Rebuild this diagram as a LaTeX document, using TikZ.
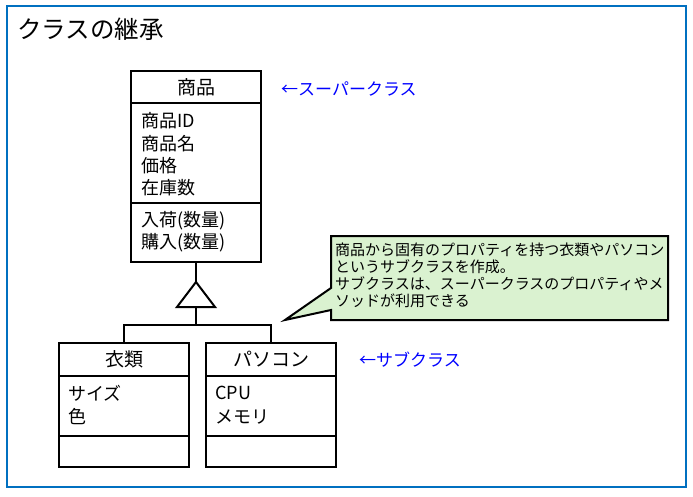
\documentclass[tikz,border=0pt]{standalone}
\usepackage{fontspec}
\setmainfont{Noto Sans CJK JP}
\definecolor{framblue}{RGB}{0,112,192}
\definecolor{callgreen}{RGB}{218,242,208}
\definecolor{notblue}{RGB}{0,0,255}
\begin{document}
\begin{tikzpicture}[x=1pt,y=-1pt,
  box/.style={draw, line width=2pt, minimum width=130pt, anchor=north west, inner sep=0pt, outer sep=0pt},
  hdr/.style={font=\fontsize{19}{21}\selectfont},
  txt/.style={anchor=west, inner sep=0pt, font=\fontsize{18}{20}\selectfont},
  ctxt/.style={anchor=west, inner sep=0pt, font=\fontsize{15}{17}\selectfont},
  note/.style={anchor=west, inner sep=0pt, text=notblue, font=\fontsize{17}{20}\selectfont},
  conn/.style={line width=2pt},
  frameline/.style={draw=framblue, line width=2.5pt}]
\useasboundingbox (0,0) rectangle (693,497);
\fill[white] (0,0) rectangle (693,497);
\draw[frameline] (7,6) rectangle (686,487);
\node[anchor=west, inner sep=0pt, font=\fontsize{24.5}{27}\selectfont] (title) at (17,29) {クラスの継承};

% super class
\node[box, hdr, minimum height=32pt] (suph) at (131,71) {商品};
\node[box, minimum height=100pt] (supa) at (suph.south west) {};
\node[box, minimum height=59pt] (supm) at (supa.south west) {};
\node[txt] (a1) at (141,121) {商品ID};
\node[txt] (a2) at (141,144) {商品名};
\node[txt] (a3) at (141,166) {価格};
\node[txt] (a4) at (141,188) {在庫数};
\node[txt] (m1) at (141,221) {入荷(数量)};
\node[txt] (m2) at (141,243) {購入(数量)};
\node[note] (supnote) at (281,89) {←スーパークラス};

% sub classes
\node[box, hdr, minimum height=33pt] (c1h) at (59,343) {衣類};
\node[box, minimum height=60pt] (c1a) at (c1h.south west) {};
\node[box, minimum height=31pt] (c1m) at (c1a.south west) {};
\node[txt] (c1t1) at (68,393) {サイズ};
\node[txt] (c1t2) at (68,417) {色};

\node[box, hdr, minimum height=33pt] (c2h) at (206,343) {パソコン};
\node[box, minimum height=60pt] (c2a) at (c2h.south west) {};
\node[box, minimum height=31pt] (c2m) at (c2a.south west) {};
\node[txt] (c2t1) at (215,393) {CPU};
\node[txt] (c2t2) at (215,417) {メモリ};
\node[note] (subnote) at (359,360) {←サブクラス};

% generalization
\path (supm.south) ++(0,20) coordinate (apex);
\path (apex) ++(0,25) coordinate (tb);
\path (apex) ++(0,43) coordinate (junc);
\draw[conn] (supm.south) -- (apex);
\draw[conn, line join=miter] (apex) -- ++(-19,25) -- ++(38,0) -- cycle;
\draw[conn] (tb) -- (junc);
\draw[conn] (junc) -| (c1h.north);
\draw[conn] (junc) -| (c2h.north);

% callout
\coordinate (tip) at (285,320);
\filldraw[fill=callgreen, draw=black, line width=2pt, line join=miter]
  (331,236) -- (668,236) -- (668,320) -- (331,320) -- (331,310) -- (tip) -- (331,288) -- cycle;
\node[ctxt] (n1) at (335,250) {商品から固有のプロパティを持つ衣類やパソコン};
\node[ctxt] (n2) at (335,267) {というサブクラスを作成。};
\node[ctxt] (n3) at (335,284) {サブクラスは、スーパークラスのプロパティやメ};
\node[ctxt] (n4) at (335,301) {ソッドが利用できる};
\end{tikzpicture}
\end{document}
